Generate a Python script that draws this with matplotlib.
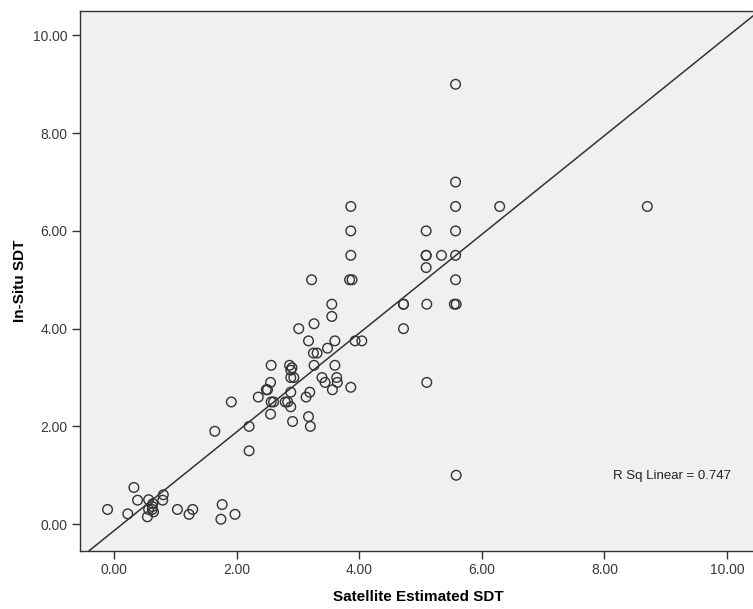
import numpy as np
import matplotlib
matplotlib.use("Agg")
import matplotlib.pyplot as plt

# ----------------------------------------
# Data
# ----------------------------------------
satellite_sdt = [
    -0.11, 0.22, 0.32, 0.38, 0.56, 0.63, 0.62, 0.56, 0.64, 0.62, 0.54,
    0.80, 0.79, 1.03, 1.28, 1.22, 1.76, 1.74, 1.97, 2.20, 1.64, 2.20, 1.91,
    2.35, 2.48, 2.50, 2.55, 2.56, 2.56, 2.60, 2.55, 2.79, 2.83, 2.88,
    2.86, 2.90, 2.88, 2.88, 2.93, 2.88, 2.91, 3.01, 3.13, 3.19, 3.17, 3.20,
    3.17, 3.22, 3.25, 3.31, 3.26, 3.26, 3.39, 3.44, 3.48, 3.55, 3.55, 3.56,
    3.60, 3.60, 3.63, 3.64, 3.86, 3.93, 4.04,
    3.86, 3.86, 3.86, 3.84, 3.88,
    4.72, 4.72, 4.72,
    5.09, 5.09, 5.09, 5.09, 5.10, 5.10, 5.34,
    5.57, 5.57, 5.57, 5.57, 5.57, 5.57, 5.55, 5.58, 5.58,
    6.29, 8.70,
]
insitu_sdt = [
    0.30, 0.21, 0.75, 0.49, 0.50, 0.42, 0.36, 0.30, 0.25, 0.30, 0.15,
    0.60, 0.49, 0.30, 0.30, 0.20, 0.40, 0.10, 0.20, 1.50, 1.90, 2.00, 2.50,
    2.60, 2.75, 2.75, 2.90, 3.25, 2.50, 2.50, 2.25, 2.50, 2.50, 2.40,
    3.25, 3.20, 3.15, 3.00, 3.00, 2.70, 2.10, 4.00, 2.60, 2.70, 2.20, 2.00,
    3.75, 5.00, 3.50, 3.50, 3.25, 4.10, 3.00, 2.90, 3.60, 4.50, 4.25, 2.75,
    3.75, 3.25, 3.00, 2.90, 2.80, 3.75, 3.75,
    6.50, 6.00, 5.50, 5.00, 5.00,
    4.50, 4.50, 4.00,
    6.00, 5.50, 5.50, 5.25, 4.50, 2.90, 5.50,
    9.00, 7.00, 6.50, 6.00, 5.50, 5.00, 4.50, 4.50, 1.00,
    6.50, 6.50,
]

# linear fit line as drawn in the reference (slope, intercept)
fit_slope = 1.01
fit_intercept = -0.13
r_sq_label = "R Sq Linear = 0.747"

ticks = [0, 2, 4, 6, 8, 10]
tick_labels = ["0.00", "2.00", "4.00", "6.00", "8.00", "10.00"]

plt.rcParams['font.family'] = ['Liberation Sans', 'DejaVu Sans']

fig = plt.figure(figsize=(7.53, 6.09), dpi=100)
ax = fig.add_axes([80 / 753, 1 - 551 / 609, 677 / 753, 540 / 609])
ax.set_facecolor('#f0f0f0')

ax.scatter(satellite_sdt, insitu_sdt, s=48, facecolors='none',
           edgecolors='#333333', linewidths=1.0, zorder=3)
ax.axline((0, fit_intercept), slope=fit_slope, color='#333333', linewidth=1.1, zorder=2)

ax.set_xlim(-0.56, 10.49)
ax.set_ylim(-0.55, 10.50)
ax.set_xticks(ticks)
ax.set_xticklabels(tick_labels)
ax.set_yticks(ticks)
ax.set_yticklabels(tick_labels)
ax.tick_params(direction='out', length=6, width=1, color='#333333',
               labelsize=10, labelcolor='#3a3a3a', pad=3)

for spine in ax.spines.values():
    spine.set_color('#333333')
    spine.set_linewidth(1.0)

ax.set_xlabel("Satellite Estimated SDT", fontsize=11, fontweight='bold', labelpad=9)
ax.set_ylabel("In-Situ SDT", fontsize=11, fontweight='bold', labelpad=4)

ax.text(8.14, 0.99, r_sq_label, fontsize=9.5, color='#222222', va='center', ha='left')

plt.savefig("out.png", dpi=100)
